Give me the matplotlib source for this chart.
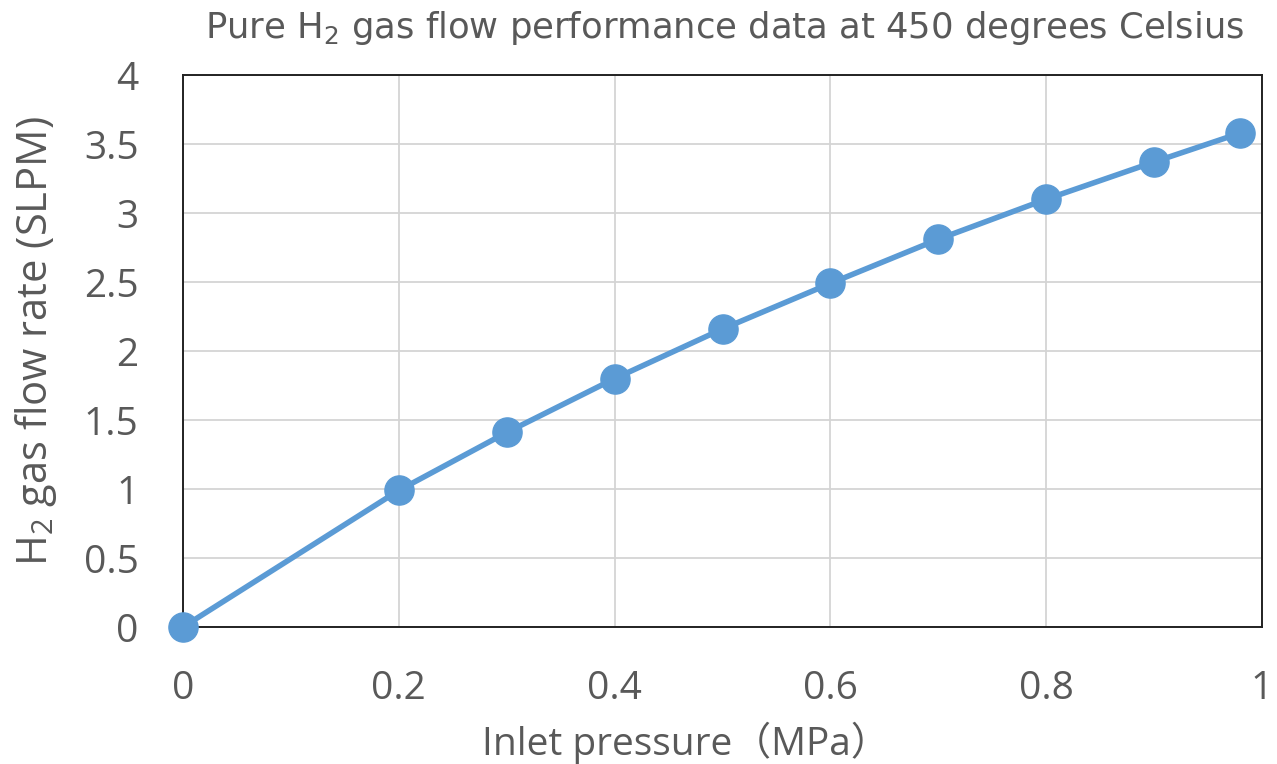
import matplotlib
matplotlib.use("Agg")
import matplotlib.pyplot as plt

plt.rcParams['font.family'] = ['Open Sans', 'Noto Sans CJK JP', 'DejaVu Sans']
plt.rcParams['mathtext.fontset'] = 'custom'
plt.rcParams['mathtext.rm'] = 'Open Sans'
plt.rcParams['mathtext.it'] = 'Open Sans:italic'

# inlet pressure (MPa) vs H2 flow rate (SLPM)
pressure = [0.0, 0.2, 0.3, 0.4, 0.5, 0.6, 0.7, 0.8, 0.9, 0.98]
flow_rate = [0.0, 0.99, 1.41, 1.80, 2.16, 2.49, 2.81, 3.10, 3.37, 3.58]
x_ticks = [0, 0.2, 0.4, 0.6, 0.8, 1]
y_ticks = [0, 0.5, 1, 1.5, 2, 2.5, 3, 3.5, 4]

blue = '#5B9BD5'
text_gray = '#595959'

fig = plt.figure(figsize=(12.77, 7.64), dpi=100)
ax = fig.add_axes([0.1433, 0.1793, 0.845, 0.7225])

ax.plot(pressure, flow_rate, color=blue, linewidth=4, marker='o',
        markersize=21, clip_on=False, zorder=3)

ax.set_xlim(0, 1)
ax.set_ylim(0, 4)
ax.set_xticks(x_ticks)
ax.set_xticklabels([f'{t:g}' for t in x_ticks])
ax.set_yticks(y_ticks)
ax.set_yticklabels([f'{t:g}' for t in y_ticks])

ax.grid(True, color='#D4D4D4', linewidth=1.3)
ax.set_axisbelow(True)
ax.tick_params(length=0, labelsize=28, labelcolor=text_gray)
ax.tick_params(axis='x', pad=31)
ax.tick_params(axis='y', pad=32)
for s in ax.spines.values():
    s.set_color('#222222')
    s.set_linewidth(1.4)

ax.set_xlabel('Inlet pressure（MPa）', fontsize=28, color=text_gray)
ax.xaxis.set_label_coords(0.466, -0.172)
ax.set_ylabel(r'$\mathregular{H_2}$ gas flow rate (SLPM)', fontsize=30,
              color=text_gray)
ax.yaxis.set_label_coords(-0.115, 0.518)
fig.text(0.567, 0.963, r'Pure $\mathregular{H_2}$ gas flow performance data at 450 degrees Celsius',
         ha='center', va='center', fontsize=25.5, color=text_gray,
         family=['DejaVu Sans'])

fig.savefig('out.png', dpi=100)
